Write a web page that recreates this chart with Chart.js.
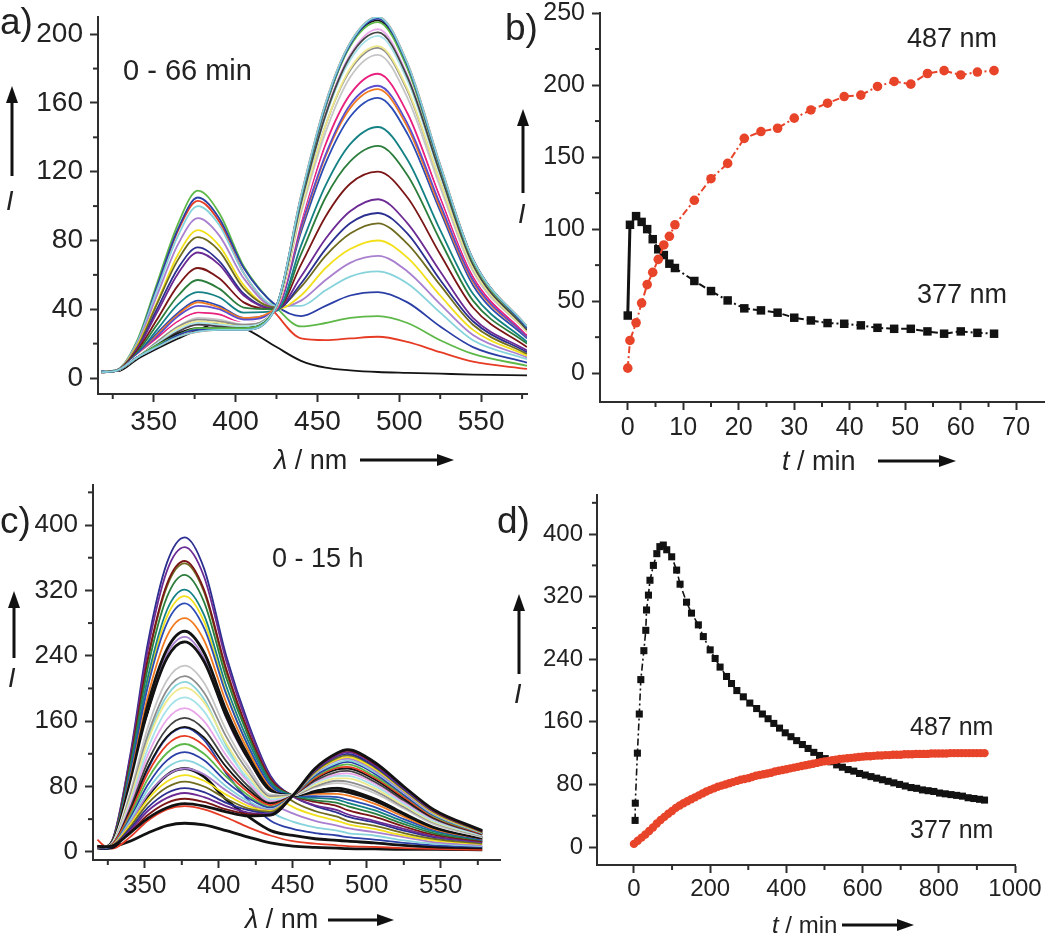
<!DOCTYPE html>
<html>
<head>
<meta charset="utf-8">
<title>Emission spectra and kinetics</title>
<script src="https://cdn.jsdelivr.net/npm/chart.js@4.4.1/dist/chart.umd.min.js"></script>
<style>
  html, body { margin: 0; padding: 0; background: #fff; }
  #page { position: relative; width: 1050px; height: 936px; overflow: hidden; background: #fff; }
  #page canvas { position: absolute; }
</style>
</head>
<body>
<div id="page">
  <canvas id="chartA" width="530" height="470" style="left:0;top:0"></canvas>
  <canvas id="chartC" width="530" height="466" style="left:0;top:470px"></canvas>
  <canvas id="chartB" width="560" height="470" style="left:490px;top:0"></canvas>
  <canvas id="chartD" width="560" height="466" style="left:490px;top:470px"></canvas>
</div>
<script>
/* ---------------- DATA: panel a (spectra, 0 - 66 min) ---------------- */
const wavelengthsA = [318, 328, 340, 352, 365, 377, 390, 405, 425, 440, 455, 470, 487, 505, 525, 545, 578];
const timesA = [0, 0.4, 1.5, 2.5, 3.5, 4.5, 5.5, 6.5, 7.5, 8.5, 12, 15, 18, 21, 24, 27, 30, 33, 36, 39, 42, 45, 48, 51, 54, 57, 60, 63, 66];
const spectraA = [
  [4, 4, 11, 17, 23, 28, 32, 29, 18, 10, 6, 4.5, 3.5, 3, 2.5, 2, 1.5],
  [3.3, 4.4, 20, 52, 86, 103, 91, 61, 37, 23, 22, 23, 24, 21, 15, 9.5, 5.3],
  [3.6, 4.9, 22, 55, 90, 109, 96, 65, 41, 30, 32, 35, 36, 32, 22, 14, 7.1],
  [3.7, 4.9, 21, 53, 87, 105, 93, 64, 42, 36, 42, 48, 50, 44, 30, 18, 8.9],
  [3.7, 4.9, 21, 51, 83, 100, 89, 61, 42, 42, 51, 59, 62, 55, 38, 22, 11],
  [3.6, 4.8, 20, 48, 78, 93, 83, 58, 41, 45, 57, 67, 71, 62, 43, 25, 12],
  [3.5, 4.7, 19, 44, 72, 86, 77, 54, 40, 48, 64, 75, 80, 70, 48, 28, 13],
  [3.5, 4.7, 18, 43, 69, 82, 74, 52, 41, 53, 71, 84, 90, 78, 54, 31, 14],
  [3.4, 4.5, 17, 40, 64, 76, 68, 49, 40, 55, 75, 90, 96, 84, 57, 33, 15],
  [3.4, 4.5, 17, 38, 61, 73, 66, 48, 40, 59, 81, 97, 104, 90, 62, 35, 16],
  [3.3, 4.5, 16, 34, 54, 64, 58, 44, 40, 66, 94, 113, 120, 105, 72, 41, 18],
  [3.3, 4.4, 15, 31, 48, 57, 52, 41, 40, 72, 105, 126, 135, 118, 80, 45, 20],
  [3.3, 4.3, 14, 28, 43, 50, 47, 38, 39, 77, 112, 136, 146, 127, 86, 49, 21],
  [3.3, 4.4, 14, 26, 38, 45, 42, 35, 40, 85, 125, 152, 163, 142, 97, 54, 23],
  [3.3, 4.4, 13, 25, 37, 44, 41, 35, 41, 87, 129, 157, 168, 146, 99, 56, 24],
  [3.3, 4.4, 13, 24, 36, 42, 40, 34, 40, 88, 130, 159, 170, 148, 101, 57, 24],
  [3.3, 4.4, 13, 23, 33, 38, 37, 32, 40, 91, 136, 165, 177, 154, 105, 59, 25],
  [3.3, 4.4, 13, 22, 32, 37, 35, 32, 41, 93, 140, 170, 183, 159, 108, 61, 26],
  [3.3, 4.4, 12, 21, 30, 35, 34, 31, 41, 96, 143, 175, 188, 163, 111, 62, 27],
  [3.3, 4.4, 12, 21, 30, 34, 33, 31, 41, 98, 147, 179, 192, 167, 114, 64, 27],
  [3.3, 4.4, 12, 20, 29, 33, 32, 30, 41, 98, 147, 180, 193, 168, 114, 64, 27],
  [3.3, 4.4, 12, 20, 28, 32, 31, 30, 42, 101, 152, 185, 199, 173, 118, 66, 28],
  [3.4, 4.5, 12, 19, 27, 31, 30, 29, 42, 102, 154, 188, 203, 176, 120, 67, 29],
  [3.3, 4.4, 12, 19, 27, 31, 30, 29, 42, 102, 153, 187, 201, 175, 119, 66, 28],
  [3.4, 4.5, 12, 19, 26, 29, 29, 29, 42, 105, 158, 194, 208, 181, 123, 69, 29],
  [3.3, 4.5, 12, 18, 24, 27, 28, 28, 42, 106, 160, 195, 210, 183, 124, 69, 30],
  [3.4, 4.5, 12, 19, 25, 29, 29, 29, 42, 104, 158, 193, 207, 180, 122, 68, 29],
  [3.4, 4.5, 12, 18, 25, 28, 28, 28, 42, 105, 159, 194, 209, 182, 123, 69, 29],
  [3.3, 4.5, 12, 18, 24, 27, 28, 28, 42, 106, 160, 195, 210, 183, 124, 69, 30]
];

/* ---------------- DATA: panel b (0 - 66 min kinetics) ---------------- */
const timeB = [0, 0.4, 1.5, 2.5, 3.5, 4.5, 5.5, 6.5, 7.5, 8.5, 12, 15, 18, 21, 24, 27, 30, 33, 36, 39, 42, 45, 48, 51, 54, 57, 60, 63, 66];
const i377B = [40, 103, 109, 105, 100, 93, 86, 82, 76, 73, 64, 57, 50.5, 45, 43.6, 42, 38.5, 36.6, 34.8, 34.3, 33.2, 31.5, 30.8, 30.8, 29, 27.4, 29, 28, 27.4];
const i487B = [3.5, 22.7, 35, 48.7, 61.5, 70, 79, 89, 95, 103, 120, 135, 145.6, 163, 167.7, 170, 177, 182.7, 187.4, 192, 193, 199, 202.5, 200.6, 208, 210, 207, 209, 210];

/* ---------------- DATA: panel c (spectra, 0 - 15 h) ---------------- */
const wavelengthsC = [318, 322, 328, 340, 352, 365, 377, 390, 405, 420, 435, 450, 465, 480, 487, 505, 525, 545, 578];
const spectraC = [
  [5, 4, 6, 13, 23, 32, 35, 33, 26, 18, 11, 7, 5.5, 4.5, 4, 3.5, 3, 3, 2.5],
  [15, 8, 4, 18, 38, 52, 56, 52, 42, 30, 20, 13, 10, 8, 7, 6, 4.5, 3.5, 2.5],
  [5, 4, 5, 32, 68, 94, 102, 92, 64, 43, 26, 20, 16, 14, 13, 11, 8, 6, 5],
  [5, 4, 7, 47, 101, 140, 152, 137, 96, 63, 38, 28, 23, 20, 18, 15, 11, 8, 6],
  [5, 5, 8, 64, 138, 191, 208, 187, 130, 85, 50, 37, 30, 26, 23, 20, 14, 10, 7],
  [5, 5, 10, 80, 174, 242, 263, 237, 164, 107, 63, 47, 38, 32, 29, 24, 18, 12, 8],
  [6, 6, 12, 95, 207, 288, 313, 282, 195, 127, 75, 55, 45, 38, 34, 28, 20, 14, 9.5],
  [6, 6, 13, 107, 234, 325, 353, 318, 220, 144, 85, 62, 50, 43, 38, 32, 23, 16, 10],
  [6, 6, 14, 117, 255, 354, 385, 347, 240, 157, 93, 68, 56, 48, 43, 36, 26, 18, 12],
  [6, 6, 14, 114, 247, 344, 373, 337, 234, 153, 91, 68, 57, 51, 46, 38, 28, 19, 12],
  [6, 6, 13, 109, 236, 328, 356, 321, 224, 147, 89, 69, 61, 56, 51, 43, 31, 21, 13],
  [6, 6, 13, 104, 225, 312, 339, 306, 213, 141, 86, 69, 63, 60, 56, 47, 34, 23, 14],
  [6, 6, 12, 99, 213, 296, 321, 290, 203, 135, 84, 69, 66, 64, 60, 51, 37, 25, 15],
  [6, 6, 12, 94, 202, 280, 304, 274, 193, 129, 81, 69, 68, 67, 64, 55, 40, 27, 15],
  [6, 6, 12, 89, 190, 264, 286, 259, 183, 123, 78, 69, 71, 71, 69, 59, 43, 28, 16],
  [6, 6, 11, 84, 180, 248, 270, 244, 173, 117, 76, 69, 73, 75, 73, 63, 46, 30, 17],
  [6, 6, 11, 80, 171, 237, 257, 233, 166, 113, 74, 69, 75, 78, 76, 65, 48, 31, 17],
  [6, 6, 11, 76, 162, 223, 243, 220, 157, 108, 72, 69, 77, 81, 80, 69, 50, 33, 18],
  [6, 6, 10, 72, 152, 210, 228, 207, 149, 103, 70, 69, 79, 84, 83, 72, 53, 34, 18],
  [6, 6, 10, 68, 143, 198, 215, 195, 141, 98, 68, 69, 80, 87, 86, 75, 55, 36, 19],
  [6, 6, 10, 64, 135, 185, 201, 183, 133, 93, 66, 69, 82, 90, 90, 78, 57, 37, 20],
  [6, 6, 10, 60, 126, 174, 189, 172, 125, 89, 64, 69, 84, 93, 93, 81, 59, 38, 20],
  [6, 6, 9, 57, 118, 162, 176, 160, 118, 85, 62, 69, 86, 95, 96, 84, 61, 40, 21],
  [6, 6, 9, 53, 110, 151, 164, 150, 111, 80, 60, 69, 87, 98, 99, 86, 63, 41, 21],
  [6, 6, 9, 50, 103, 141, 153, 140, 104, 76, 59, 69, 89, 101, 102, 89, 65, 42, 22],
  [6, 6, 9, 47, 96, 131, 142, 130, 98, 73, 57, 69, 90, 103, 104, 91, 67, 43, 22],
  [6, 6, 8, 44, 89, 121, 132, 120, 92, 69, 55, 69, 92, 105, 107, 93, 69, 44, 23],
  [6, 6, 8, 41, 82, 112, 122, 112, 86, 66, 54, 69, 93, 107, 110, 96, 70, 45, 23],
  [6, 6, 8, 38, 76, 103, 112, 103, 80, 62, 52, 69, 95, 109, 112, 98, 72, 46, 23],
  [6, 6, 8, 35, 70, 94, 102, 95, 75, 59, 51, 69, 96, 112, 114, 100, 73, 47, 24],
  [7, 6, 8, 33, 64, 86, 94, 87, 70, 56, 50, 69, 97, 113, 116, 102, 75, 48, 24],
  [7, 6, 7.5, 30, 59, 79, 86, 80, 65, 53, 49, 69, 98, 115, 118, 104, 76, 49, 24],
  [7, 6, 7.3, 28, 54, 72, 78, 73, 60, 51, 47, 69, 99, 117, 120, 105, 77, 50, 25],
  [7, 6, 7.2, 26, 50, 66, 72, 67, 56, 48, 46, 69, 100, 118, 122, 107, 78, 50, 25],
  [7, 6, 7.1, 24, 45, 60, 65, 61, 52, 46, 45, 69, 101, 120, 124, 108, 80, 51, 25],
  [7, 6, 7, 23, 41, 54, 59, 56, 49, 44, 45, 69, 102, 121, 125, 110, 80, 52, 26]
];
const blackCurvesC = [0, 2, 15, 16, 35];

/* ---------------- DATA: panel d (0 - 15 h kinetics) ---------------- */
const time377D = [3, 3.5, 9, 14, 18, 26, 31, 33, 38, 42, 51, 60, 68, 77, 86, 99, 112, 121, 138, 151,
  169, 182, 200, 213, 226, 243, 256, 270, 287, 304, 322, 337, 352, 367, 382, 397, 412, 427, 442, 457,
  472, 487, 502, 517, 532, 547, 562, 577, 592, 607, 622, 637, 652, 667, 682, 697, 712, 727, 742, 757,
  772, 787, 802, 817, 832, 847, 862, 877, 892, 907, 920];
const i377D = [34, 56, 120, 170, 214, 251, 277, 303, 322, 341, 360, 375, 384, 386, 380, 371, 354, 336, 313, 299,
  284, 269, 252, 241, 230, 218, 209, 200, 192, 184, 177, 170, 164, 158, 152, 146, 141, 136, 131, 126,
  121, 117, 113, 109, 105, 102, 99, 97, 94, 92, 90, 88, 86, 84, 82, 80, 78, 76, 75, 73,
  72, 71, 69, 68, 67, 66, 65, 63, 62, 61, 60];
const time487D = [0, 10, 20, 30, 40, 50, 60, 70, 80, 90, 100, 110, 120, 130, 140, 150, 160, 170, 180, 190,
  200, 210, 220, 230, 240, 250, 260, 270, 280, 290, 300, 310, 320, 330, 340, 350, 360, 370, 380, 390,
  400, 410, 420, 430, 440, 450, 460, 470, 480, 490, 500, 510, 520, 530, 540, 550, 560, 570, 580, 590,
  600, 610, 620, 630, 640, 650, 660, 670, 680, 690, 700, 710, 720, 730, 740, 750, 760, 770, 780, 790,
  800, 810, 820, 830, 840, 850, 860, 870, 880, 890, 900, 910, 920];
const i487D = [4, 8, 12, 16, 20.5, 25, 30, 34.5, 38.5, 42.5, 46, 50, 53, 56, 58.5, 61, 63.5, 66, 68.5, 71,
  73, 75, 77, 78.5, 80, 81.5, 83, 84.5, 86, 87, 88, 89.5, 91, 92, 93, 94, 95, 96.5, 97.5, 98.5,
  99.5, 100.5, 101.5, 102.5, 103.5, 104.5, 105.5, 106.5, 107.5, 108.5, 109.5, 110, 111, 111.5, 112.5, 113, 113.5, 114, 114.5, 115,
  115.5, 116, 116, 116.5, 117, 117, 117.5, 117.5, 118, 118, 118, 118.5, 118.5, 118.5, 119, 119, 119, 119, 119.5, 119.5,
  119.5, 119.5, 119.5, 120, 120, 120, 120, 120, 120, 120, 120, 120, 120];

/* ---------------- TICKS ---------------- */
const ticksAx = [350, 400, 450, 500, 550];
const ticksAy = [0, 40, 80, 120, 160, 200];
const ticksBx = [0, 10, 20, 30, 40, 50, 60, 70];
const ticksBy = [0, 50, 100, 150, 200, 250];
const ticksCx = [350, 400, 450, 500, 550];
const ticksCy = [0, 80, 160, 240, 320, 400];
const ticksDx = [0, 200, 400, 600, 800, 1000];
const ticksDy = [0, 80, 160, 240, 320, 400];

/* ---------------- STYLE ---------------- */
const FONT = '"Liberation Sans", Arial, Helvetica, sans-serif';
const AXIS_COLOR = '#2e2e2e';
const TEXT_COLOR = '#222222';
const RED = '#e8442a';
const BLACK = '#121212';
const PALETTE = ['#141414', '#e63b24', '#5db848', '#2a3ea6', '#86d3dc', '#a97fcf', '#f2e01c', '#6f6b1f',
  '#2b2f8f', '#6c2a94', '#7b1616', '#2b7d3c', '#148184', '#2a4cb4', '#f27a20', '#5a4ecf',
  '#e8217f', '#ffffff', '#c6c6c6', '#8d8d8d', '#efe98a', '#a6e2ea', '#eaa6ea', '#444444'];
const DASH_DOT = [7, 3, 2, 3];

/* ---------------- DECORATION PLUGIN ---------------- */
function drawArrow(ctx, a) {
  const ang = Math.atan2(a.y2 - a.y1, a.x2 - a.x1);
  const hl = a.head || 17, hw = a.headWidth || 6;
  const bx = a.x2 - Math.cos(ang) * hl, by = a.y2 - Math.sin(ang) * hl;
  ctx.strokeStyle = '#111';
  ctx.fillStyle = '#111';
  ctx.lineWidth = a.width || 3;
  ctx.beginPath(); ctx.moveTo(a.x1, a.y1); ctx.lineTo(bx, by); ctx.stroke();
  ctx.beginPath();
  ctx.moveTo(a.x2, a.y2);
  ctx.lineTo(bx + Math.sin(ang) * hw, by - Math.cos(ang) * hw);
  ctx.lineTo(bx - Math.sin(ang) * hw, by + Math.cos(ang) * hw);
  ctx.closePath(); ctx.fill();
}

function drawText(ctx, t) {
  let x = t.x;
  const parts = t.parts || [{ text: t.text, italic: t.italic }];
  ctx.fillStyle = TEXT_COLOR;
  ctx.textBaseline = 'alphabetic';
  ctx.textAlign = 'left';
  parts.forEach(p => {
    ctx.font = (p.italic ? 'italic ' : '') + t.size + 'px ' + FONT;
    ctx.fillText(p.text, x, t.y);
    x += ctx.measureText(p.text).width;
  });
}

const decorPlugin = {
  id: 'decor',
  afterDraw(chart, args, opts) {
    const ctx = chart.ctx;
    const area = chart.chartArea;
    ctx.save();
    // minor ticks
    ctx.strokeStyle = AXIS_COLOR;
    ctx.lineWidth = 2;
    (opts.minorX || []).forEach(v => {
      const p = chart.scales.x.getPixelForValue(v);
      ctx.beginPath(); ctx.moveTo(p, area.bottom); ctx.lineTo(p, area.bottom + 5); ctx.stroke();
    });
    (opts.minorY || []).forEach(v => {
      const p = chart.scales.y.getPixelForValue(v);
      ctx.beginPath(); ctx.moveTo(area.left, p); ctx.lineTo(area.left - 5, p); ctx.stroke();
    });
    (opts.texts || []).forEach(t => drawText(ctx, t));
    (opts.arrows || []).forEach(a => drawArrow(ctx, a));
    ctx.restore();
  }
};

/* ---------------- HELPERS ---------------- */
function axis(min, max, tickValues, size, pad, fitSize, horizontal) {
  return {
    type: 'linear', min: min, max: max,
    afterBuildTicks: s => { s.ticks = tickValues.map(v => ({ value: v })); },
    afterFit: s => {
      if (horizontal) { s.height = fitSize; s.paddingLeft = 0; s.paddingRight = 0; }
      else { s.width = fitSize; s.paddingTop = 0; s.paddingBottom = 0; }
    },
    border: { display: true, color: AXIS_COLOR, width: 2 },
    grid: { drawOnChartArea: false, drawTicks: true, tickLength: 8, tickColor: AXIS_COLOR, tickWidth: 2 },
    ticks: { color: TEXT_COLOR, font: { family: FONT, size: size }, padding: pad, autoSkip: false, maxRotation: 0, callback: v => String(v) }
  };
}

function spectrumSets(wl, rows, colorOf, widthOf) {
  return rows.map((row, i) => ({
    label: 'spectrum ' + (i + 1),
    data: row.map((v, k) => ({ x: wl[k], y: v })),
    borderColor: colorOf(i),
    borderWidth: widthOf(i),
    pointRadius: 0,
    cubicInterpolationMode: 'monotone',
    fill: false,
    order: -i
  }));
}

function points(xs, ys) {
  return xs.map((x, i) => ({ x: x, y: ys[i] }));
}

function baseOptions(padding, scales, decor) {
  return {
    responsive: false,
    animation: false,
    events: [],
    layout: { padding: padding },
    plugins: { legend: { display: false }, tooltip: { enabled: false }, decor: decor },
    scales: scales
  };
}

/* ---------------- PANEL A ---------------- */
new Chart(document.getElementById('chartA'), {
  type: 'line',
  data: {
    datasets: spectrumSets(wavelengthsA, spectraA, i => PALETTE[i % PALETTE.length], () => 1.8)
  },
  options: baseOptions({ left: 0, right: 3, top: 17, bottom: 0 }, {
    x: axis(316, 578, ticksAx, 28, 3, 76, true),
    y: axis(-9.3, 210, ticksAy, 28, 7, 98, false)
  }, {
    minorX: [325, 375, 425, 475, 525, 575],
    minorY: [20, 60, 100, 140, 180],
    texts: [
      { text: 'a)', size: 37, x: 0, y: 34 },
      { text: '0 - 66 min', size: 29, x: 123, y: 80 },
      { parts: [{ text: 'λ', italic: true }, { text: ' / nm' }], size: 27, x: 274, y: 469 },
      { text: 'I', italic: true, size: 27, x: 6, y: 210 }
    ],
    arrows: [
      { x1: 12, y1: 176, x2: 12, y2: 86 },
      { x1: 360, y1: 460, x2: 454, y2: 460 }
    ]
  }),
  plugins: [decorPlugin]
});

/* ---------------- PANEL B ---------------- */
new Chart(document.getElementById('chartB'), {
  type: 'line',
  data: {
    datasets: [
      {
        label: '487 nm',
        data: points(timeB, i487B),
        borderColor: RED, borderWidth: 2, borderDash: DASH_DOT,
        pointStyle: 'circle', pointRadius: 4.8,
        pointBackgroundColor: RED, pointBorderColor: RED, pointBorderWidth: 0,
        order: 0
      },
      {
        label: '377 nm',
        data: points(timeB, i377B),
        borderColor: BLACK, borderWidth: 2, borderDash: DASH_DOT,
        segment: {
          borderDash: ctx => ctx.p0DataIndex === 0 ? [] : DASH_DOT,
          borderWidth: ctx => ctx.p0DataIndex === 0 ? 3 : 2
        },
        pointStyle: 'rect', pointRadius: 6,
        pointBackgroundColor: BLACK, pointBorderColor: BLACK, pointBorderWidth: 0,
        order: 1
      }
    ]
  },
  options: baseOptions({ left: 0, right: 2, top: 13, bottom: 0 }, {
    x: axis(-5, 75, ticksBx, 25, 3, 68, true),
    y: axis(-20, 250, ticksBy, 25, 7, 110, false)
  }, {
    minorX: [5, 15, 25, 35, 45, 55, 65],
    minorY: [25, 75, 125, 175, 225],
    texts: [
      { text: 'b)', size: 37, x: 15, y: 40 },
      { text: '487 nm', size: 27, x: 417, y: 47 },
      { text: '377 nm', size: 27, x: 427, y: 303 },
      { parts: [{ text: 't', italic: true }, { text: ' / min' }], size: 27, x: 292, y: 470 },
      { text: 'I', italic: true, size: 27, x: 28, y: 223 }
    ],
    arrows: [
      { x1: 33, y1: 193, x2: 33, y2: 109 },
      { x1: 388, y1: 461, x2: 466, y2: 461 }
    ]
  }),
  plugins: [decorPlugin]
});

/* ---------------- PANEL C ---------------- */
new Chart(document.getElementById('chartC'), {
  type: 'line',
  data: {
    datasets: spectrumSets(wavelengthsC, spectraC,
      i => blackCurvesC.includes(i) ? BLACK : PALETTE[i % PALETTE.length],
      i => blackCurvesC.includes(i) ? 2.8 : 1.8)
  },
  options: baseOptions({ left: 0, right: 30, top: 15, bottom: 0 }, {
    x: axis(315, 590, ticksCx, 26, 2, 76, true),
    y: axis(-10, 449, ticksCy, 26, 7, 93, false)
  }, {
    minorX: [325, 375, 425, 475, 525, 575],
    minorY: [40, 120, 200, 280, 360, 440],
    texts: [
      { text: 'c)', size: 37, x: 0, y: 63 },
      { text: '0 - 15 h', size: 27, x: 272, y: 97 },
      { parts: [{ text: 'λ', italic: true }, { text: ' / nm' }], size: 27, x: 245, y: 458 },
      { text: 'I', italic: true, size: 27, x: 8, y: 217 }
    ],
    arrows: [
      { x1: 14, y1: 188, x2: 14, y2: 121 },
      { x1: 328, y1: 450, x2: 394, y2: 450 }
    ]
  }),
  plugins: [decorPlugin]
});

/* ---------------- PANEL D ---------------- */
new Chart(document.getElementById('chartD'), {
  type: 'line',
  data: {
    datasets: [
      {
        label: '487 nm',
        data: points(time487D, i487D),
        borderColor: RED, borderWidth: 1.5, borderDash: DASH_DOT,
        pointStyle: 'circle', pointRadius: 4.2,
        pointBackgroundColor: RED, pointBorderColor: RED, pointBorderWidth: 0,
        order: 0
      },
      {
        label: '377 nm',
        data: points(time377D, i377D),
        borderColor: BLACK, borderWidth: 1.6, borderDash: DASH_DOT,
        pointStyle: 'rect', pointRadius: 5,
        pointBackgroundColor: BLACK, pointBorderColor: BLACK, pointBorderWidth: 0,
        order: 1
      }
    ]
  },
  options: baseOptions({ left: 0, right: 35, top: 25, bottom: 0 }, {
    x: axis(-97, 1000, ticksDx, 24, 2, 71, true),
    y: axis(-23, 450, ticksDy, 24, 6, 107, false)
  }, {
    minorX: [100, 300, 500, 700, 900],
    minorY: [40, 120, 200, 280, 360, 440],
    texts: [
      { text: 'd)', size: 37, x: 7, y: 63 },
      { text: '487 nm', size: 25, x: 420, y: 265 },
      { text: '377 nm', size: 25, x: 420, y: 368 },
      { parts: [{ text: 't', italic: true }, { text: ' / min' }], size: 24, x: 282, y: 463 },
      { text: 'I', italic: true, size: 27, x: 24, y: 233 }
    ],
    arrows: [
      { x1: 29, y1: 204, x2: 29, y2: 124 },
      { x1: 352, y1: 455, x2: 424, y2: 455 }
    ]
  }),
  plugins: [decorPlugin]
});
</script>
</body>
</html>
